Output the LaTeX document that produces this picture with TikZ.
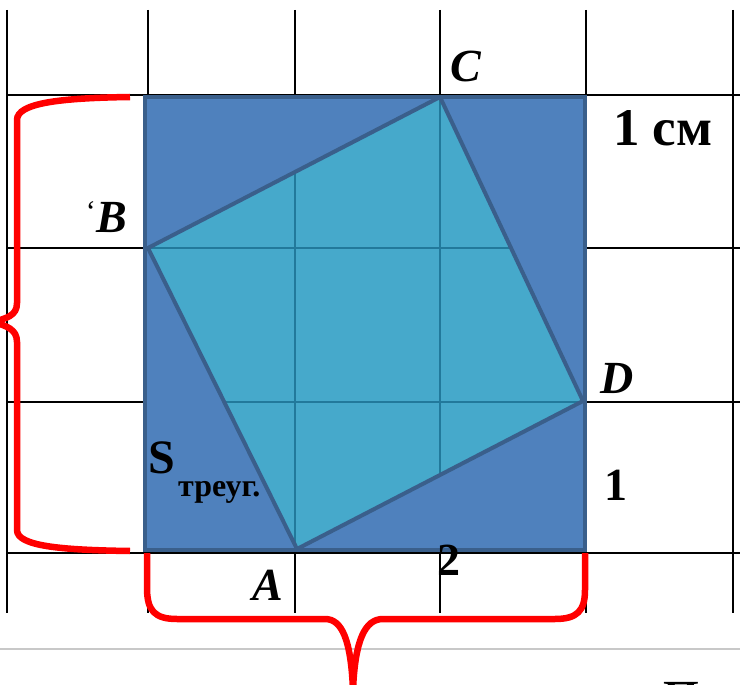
\documentclass[tikz,border=0pt]{standalone}
\usepackage{fontspec}
\setmainfont{Liberation Serif}
\definecolor{sqblue}{HTML}{4F81BD}
\definecolor{sqedge}{HTML}{3A5F8B}
\definecolor{teal2}{HTML}{46A9CB}
\definecolor{tealline}{HTML}{22799B}
\definecolor{graylin}{HTML}{C8C8C8}
\tikzset{
  gridline/.style={black, line width=2.6pt},
  brace/.style={red, line width=6.5pt, line cap=butt},
  ptlabel/.style={anchor=base west, inner sep=0pt, font=\fontsize{46}{46}\selectfont\bfseries\itshape},
  numlabel/.style={anchor=base west, inner sep=0pt, font=\fontsize{46}{46}\selectfont\bfseries},
}
\begin{document}
\begin{tikzpicture}[x=1pt,y=-1pt]
\useasboundingbox (0,0) rectangle (740,685);
% grid
\foreach \x in {7,148,295,440,586,733} \draw[gridline] (\x,10) -- (\x,613);
\foreach \y in {95,248,402,553} \draw[gridline] (7,\y) -- (740,\y);
% big square
\draw[fill=sqblue, draw=sqedge, line width=4pt] (145,97) rectangle (585,550);
% tilted square
\coordinate (B) at (148,248);
\coordinate (C) at (440,97);
\coordinate (D) at (583,401);
\coordinate (A) at (297,549);
\fill[teal2] (B) -- (C) -- (D) -- (A) -- cycle;
\begin{scope}
  \clip (B) -- (C) -- (D) -- (A) -- cycle;
  \foreach \x in {295,440} \draw[tealline, line width=1.8pt] (\x,90) -- (\x,560);
  \foreach \y in {248,402} \draw[tealline, line width=1.8pt] (140,\y) -- (590,\y);
\end{scope}
\draw[sqedge, line width=4pt, line join=round] (B) -- (C) -- (D) -- (A) -- cycle;
% labels
\node[ptlabel] (lC) at (450,82) {C};
\node[ptlabel] (lB) at (96,232) {B};
\node[anchor=base east, inner sep=0pt, font=\fontsize{30}{30}\selectfont] (tick) at (96,222) {‘};
\node[ptlabel] (lD) at (600,393) {D};
\node[ptlabel] (lA) at (252,600) {A};
\node[numlabel, font=\fontsize{53}{53}\selectfont\bfseries] (cm) at (613,146) {1 см};
\node[numlabel] (one) at (604,500) {1};
\node[numlabel] (two) at (437,575) {2};
\node[anchor=base west, inner sep=0pt, font=\fontsize{48}{48}\selectfont\bfseries] (S) at (148,473) {S};
\node[anchor=base west, inner sep=0pt, font=\fontsize{32}{32}\selectfont\bfseries] (sub) at (178,496) {треуг.};
\node[numlabel] (P) at (663,712) {П};
% gray rule
\draw[graylin, line width=1.5pt] (0,649) -- (740,649);
% braces
\draw[brace] (130,97) .. controls (60,98) and (17,103) .. (17,120) -- (17,303)
  .. controls (17,316) and (6,318) .. (-6,322)
  .. controls (6,326) and (17,329) .. (17,342) -- (17,530)
  .. controls (17,546) and (60,550) .. (130,551);
\draw[brace] (147,553) -- (147,588) .. controls (147,611) and (155,619) .. (177,619) -- (325,619)
  .. controls (342,619) and (351,640) .. (353,690);
\draw[brace] (585,553) -- (585,590) .. controls (585,611) and (577,619) .. (555,619) -- (383,619)
  .. controls (365,619) and (355,640) .. (353,690);
\end{tikzpicture}
\end{document}
